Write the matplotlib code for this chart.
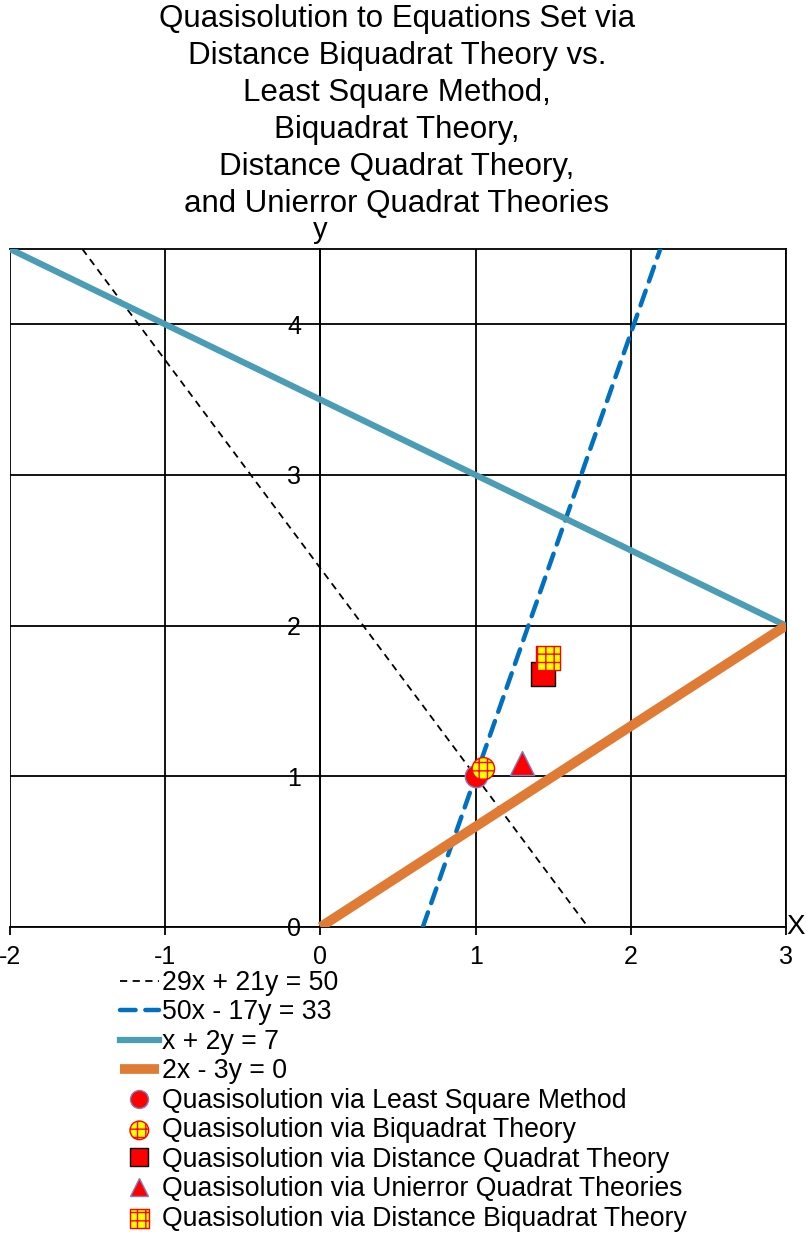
import numpy as np
import matplotlib.pyplot as plt
from matplotlib.lines import Line2D

plt.rcParams['font.family'] = ['Liberation Sans', 'DejaVu Sans']
plt.rcParams['hatch.linewidth'] = 1.0
plt.rcParams['axes.unicode_minus'] = False

# equation lines, endpoints
eq_labels = ['29x + 21y = 50', '50x - 17y = 33', 'x + 2y = 7', '2x - 3y = 0']
eq_x = [[-1.534, 1.724], [0.66, 2.19], [-2.0, 3.0], [0.0, 3.0]]
eq_y = [[4.5, 0.0], [0.0, 4.5], [4.5, 2.0], [0.0, 2.0]]

# quasisolutions
pt_labels = ['Quasisolution via Least Square Method',
             'Quasisolution via Biquadrat Theory',
             'Quasisolution via Distance Quadrat Theory',
             'Quasisolution via Unierror Quadrat Theories',
             'Quasisolution via Distance Biquadrat Theory']
pt_x = [1.0, 1.05, 1.437, 1.30, 1.469]
pt_y = [1.0, 1.05, 1.682, 1.09, 1.788]

x_ticks = [-2, -1, 0, 1, 2, 3]
y_ticks = [0, 1, 2, 3, 4]

title = ('Quasisolution to Equations Set via\n'
         'Distance Biquadrat Theory vs.\n'
         'Least Square Method,\n'
         'Biquadrat Theory,\n'
         'Distance Quadrat Theory,\n'
         'and Unierror Quadrat Theories')

fig = plt.figure(figsize=(8.06, 12.35), dpi=100)
ax = fig.add_axes([10/806, 308/1235, 776/806, 678/1235])

line_styles = [dict(color='black', lw=1.3, ls=(0, (4, 3))),
               dict(color='#0070C0', lw=3.2, ls=(0, (3.5, 2.2)), dash_capstyle='round'),
               dict(color='#4A9DB5', lw=4.5, ls='-'),
               dict(color='#E07B35', lw=7, ls='-', solid_capstyle='butt')]
handles = []
for lx, ly, st, lab in zip(eq_x, eq_y, line_styles, eq_labels):
    h, = ax.plot(lx, ly, label=lab, zorder=3, **st)
    handles.append(h)

# markers
ax.scatter(pt_x[0], pt_y[0], s=260, marker='o', c='red', edgecolors='#8080C0', linewidths=1, zorder=5)
ax.scatter(pt_x[1], pt_y[1], s=260, marker='o', c='yellow', edgecolors='red', linewidths=1, hatch='++', zorder=6)
ax.scatter(pt_x[2], pt_y[2], s=300, marker='s', c='red', edgecolors='black', linewidths=1, zorder=5)
ax.scatter(pt_x[3], pt_y[3], s=300, marker='^', c='red', edgecolors='#8080C0', linewidths=1, zorder=5)
ax.scatter(pt_x[4], pt_y[4], s=300, marker='s', c='yellow', edgecolors='red', linewidths=1, hatch='++', zorder=6)

ax.set_xlim(-2, 3)
ax.set_ylim(0, 4.5)
ax.set_xticks(x_ticks)
ax.set_yticks(y_ticks)
ax.grid(True, color='black', lw=1.3)
ax.set_axisbelow(True)
for s in ax.spines.values():
    s.set_linewidth(1.3)
ax.spines['left'].set_position(('data', 0))
ax.tick_params(axis='x', direction='out', length=6, width=1.3, labelsize=18, pad=7)
ax.tick_params(axis='y', length=0, labelsize=18, pad=14)

ax.text(0, 4.53, 'y', ha='center', va='bottom', fontsize=21)
ax.text(3.0, 0, 'X', ha='left', va='center', fontsize=20)

fig.text(397/806, 1 - 4/1235, title, ha='center', va='top', fontsize=22.5, linespacing=1.3)

# legend
mk_handles = [
    Line2D([], [], ls='none', marker='o', ms=13, mfc='red', mec='#8080C0'),
    ax.scatter([], [], s=180, marker='o', c='yellow', edgecolors='red', hatch='++'),
    Line2D([], [], ls='none', marker='s', ms=13, mfc='red', mec='black'),
    Line2D([], [], ls='none', marker='^', ms=13, mfc='red', mec='#8080C0'),
    ax.scatter([], [], s=180, marker='s', c='yellow', edgecolors='red', hatch='++'),
]
fig.legend(handles + mk_handles, eq_labels + pt_labels,
           loc='upper left', bbox_to_anchor=(120/806, 1 - 970/1235),
           frameon=False, fontsize=19.2, handlelength=1.45, handletextpad=0.12,
           labelspacing=0.13, borderpad=0, borderaxespad=0, scatterpoints=1)

fig.savefig('out.png', dpi=100)
